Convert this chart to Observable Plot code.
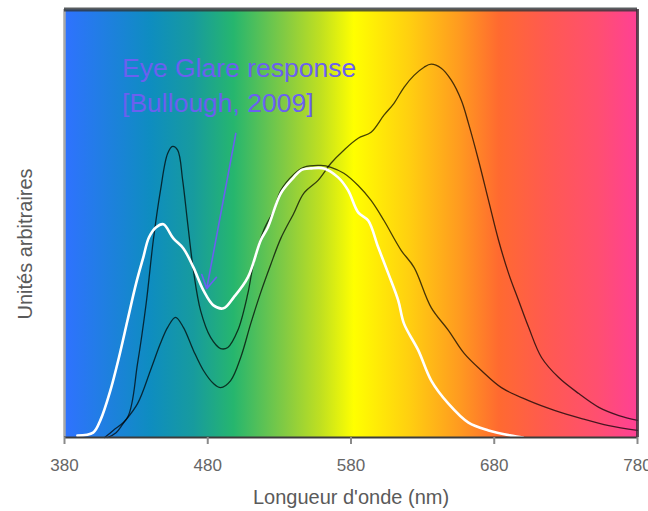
<!DOCTYPE html>
<html>
<head>
<meta charset="utf-8">
<script src="https://cdn.jsdelivr.net/npm/d3@7"></script>
<script src="https://cdn.jsdelivr.net/npm/@observablehq/plot@0.6"></script>
<style>
  html, body { margin: 0; padding: 0; background: #ffffff; }
  #chart { width: 648px; height: 511px; }
</style>
</head>
<body>
<div id="chart"></div>
<script>
// ---------- data ----------
const xTicks = [380, 480, 580, 680, 780];
const xLabel = "Longueur d'onde (nm)";
const yLabel = "Unités arbitraires";
const annotationLines = ["Eye Glare response", "[Bullough, 2009]"];

// spectrum background stops: wavelength (nm) and colour
const spectrumNm    = [380, 440, 470, 498, 536, 559, 582, 620, 656, 683, 716, 752, 780];
const spectrumColor = ["#2f72ff", "#0e8dc0", "#179b9e", "#26b66e", "#88cc40", "#c0e020", "#ffff00",
                       "#ffd010", "#ff9a20", "#ff6a30", "#ff5a50", "#ff4f70", "#ff4095"];

// white curve: eye glare response
const glareNm  = [389, 400, 405, 412, 418, 424, 430, 435, 439, 444, 449, 456, 463, 470, 477, 484, 491, 498,
                  508, 517, 522, 531, 540, 545, 552, 561, 571, 578, 585, 592, 599, 606, 613, 617, 627, 636,
                  648, 662, 676, 692, 700];
const glareVal = [0.005, 0.013, 0.046, 0.126, 0.215, 0.315, 0.414, 0.484, 0.538, 0.565, 0.573, 0.535, 0.508,
                  0.457, 0.395, 0.355, 0.347, 0.376, 0.430, 0.530, 0.565, 0.656, 0.699, 0.718, 0.723, 0.723,
                  0.699, 0.664, 0.605, 0.583, 0.511, 0.441, 0.368, 0.306, 0.234, 0.153, 0.091, 0.040, 0.019,
                  0.005, 0.0];

// black curve 1: strong blue peak + broad peak near 560 nm
const coolNm  = [408, 414, 424, 431, 437, 442, 447, 452, 455.5, 459, 462.5, 466, 470, 475, 482, 489, 494, 501,
                 508, 512, 519, 526, 531, 540, 547, 559, 566, 575, 585, 594, 603, 615, 624, 636, 648, 659, 671,
                 685, 704, 722, 741, 760, 780];
const coolVal = [0.0, 0.019, 0.054, 0.199, 0.360, 0.530, 0.664, 0.763, 0.782, 0.772, 0.691, 0.575, 0.449,
                 0.341, 0.269, 0.239, 0.242, 0.288, 0.387, 0.468, 0.556, 0.610, 0.664, 0.707, 0.726, 0.731,
                 0.726, 0.710, 0.677, 0.637, 0.583, 0.503, 0.457, 0.349, 0.288, 0.226, 0.180, 0.134, 0.099,
                 0.073, 0.051, 0.032, 0.019];

// black curve 2: weak blue peak + main peak near 636 nm
const warmNm  = [410, 416, 421, 431, 440, 447, 452, 457.5, 463, 470, 477, 484, 489, 496, 503, 510, 517, 524,
                 531, 540, 547, 557, 566, 575, 585, 594, 603, 610, 617, 624, 631, 636, 643, 650, 657, 662,
                 669, 676, 683, 690, 697, 704, 713, 725, 739, 753, 767, 780];
const warmVal = [0.0, 0.013, 0.038, 0.091, 0.180, 0.253, 0.296, 0.323, 0.296, 0.234, 0.180, 0.145, 0.134,
                 0.153, 0.215, 0.306, 0.390, 0.465, 0.535, 0.602, 0.656, 0.691, 0.737, 0.772, 0.804, 0.820,
                 0.866, 0.898, 0.941, 0.973, 0.995, 1.003, 0.992, 0.960, 0.906, 0.844, 0.745, 0.637, 0.530,
                 0.441, 0.368, 0.296, 0.215, 0.161, 0.118, 0.081, 0.059, 0.046];

// annotation anchor positions (data units)
const annotationAt = {x: 420.2, y: 1.035};
const arrowFrom = {x: 499.6, y: 0.817};
const arrowTo   = {x: 479.3, y: 0.40};

// ---------- build ----------
const toPts = (nm, v) => nm.map((x, i) => ({x, y: v[i]}));
const glare = toPts(glareNm, glareVal);
const cool = toPts(coolNm, coolVal);
const warm = toPts(warmNm, warmVal);

const font = "'Liberation Sans', Arial, Helvetica, sans-serif";
const xDomain = [380, 780];
const yDomain = [0, 1.15];

const chart = Plot.plot({
  width: 648,
  height: 511,
  marginLeft: 64,
  marginRight: 11,
  marginTop: 9,
  marginBottom: 74,
  style: {fontFamily: font, background: "#ffffff", overflow: "visible"},
  x: {domain: xDomain},
  y: {domain: yDomain, axis: null},
  marks: [
    Plot.frame({fill: "url(#spectrum)", stroke: null}),
    Plot.line(warm, {x: "x", y: "y", stroke: "#000", strokeOpacity: 0.72, strokeWidth: 1.3, curve: "catmull-rom"}),
    Plot.line(cool, {x: "x", y: "y", stroke: "#000", strokeOpacity: 0.72, strokeWidth: 1.3, curve: "catmull-rom"}),
    Plot.line(glare, {x: "x", y: "y", stroke: "#ffffff", strokeWidth: 2.6, curve: "catmull-rom"}),
    // borders
    Plot.ruleX([xDomain[0]], {stroke: "#a8a8a8", strokeWidth: 2.5}),
    Plot.ruleX([xDomain[1]], {stroke: "#3a2a33", strokeOpacity: 0.8, strokeWidth: 3}),
    Plot.ruleY([yDomain[1]], {stroke: "#2f3538", strokeOpacity: 0.8, strokeWidth: 4}),
    Plot.ruleY([0], {stroke: "#3c3c3c", strokeWidth: 2}),
    // axis
    Plot.axisX({ticks: xTicks, tickFormat: d => String(d), tickSize: 7, tickPadding: 14,
                fontSize: 17, fill: "#666666", stroke: "#8a8a8a", strokeWidth: 2, label: null}),
    Plot.text([xLabel], {frameAnchor: "bottom", dy: 60, text: d => d, fontSize: 20, fill: "#5a5a5a", lineAnchor: "middle"}),
    Plot.text([yLabel], {x: xDomain[0], y: 0.52, dx: -39, rotate: -90, text: d => d, fontSize: 20,
                         fill: "#5a5a5a", lineAnchor: "middle", textAnchor: "middle"}),
    // annotation
    Plot.text([annotationLines.join("\n")], {x: annotationAt.x, y: annotationAt.y, text: d => d,
      textAnchor: "start", lineAnchor: "top", fontSize: 26.5, lineHeight: 1.32, fill: "#6b60f0"}),
    Plot.arrow([{x1: arrowFrom.x, y1: arrowFrom.y, x2: arrowTo.x, y2: arrowTo.y}],
      {x1: "x1", y1: "y1", x2: "x2", y2: "y2", stroke: "#6b60f0", strokeWidth: 1.6, headLength: 14, bend: 0})
  ]
});

// gradient definition for the spectrum background
const ns = "http://www.w3.org/2000/svg";
const defs = document.createElementNS(ns, "defs");
const grad = document.createElementNS(ns, "linearGradient");
grad.setAttribute("id", "spectrum");
grad.setAttribute("x1", "0"); grad.setAttribute("x2", "1");
grad.setAttribute("y1", "0"); grad.setAttribute("y2", "0");
spectrumNm.forEach((nm, i) => {
  const s = document.createElementNS(ns, "stop");
  s.setAttribute("offset", String((nm - xDomain[0]) / (xDomain[1] - xDomain[0])));
  s.setAttribute("stop-color", spectrumColor[i]);
  grad.appendChild(s);
});
defs.appendChild(grad);
chart.insertBefore(defs, chart.firstChild);

document.getElementById("chart").appendChild(chart);
</script>
</body>
</html>
